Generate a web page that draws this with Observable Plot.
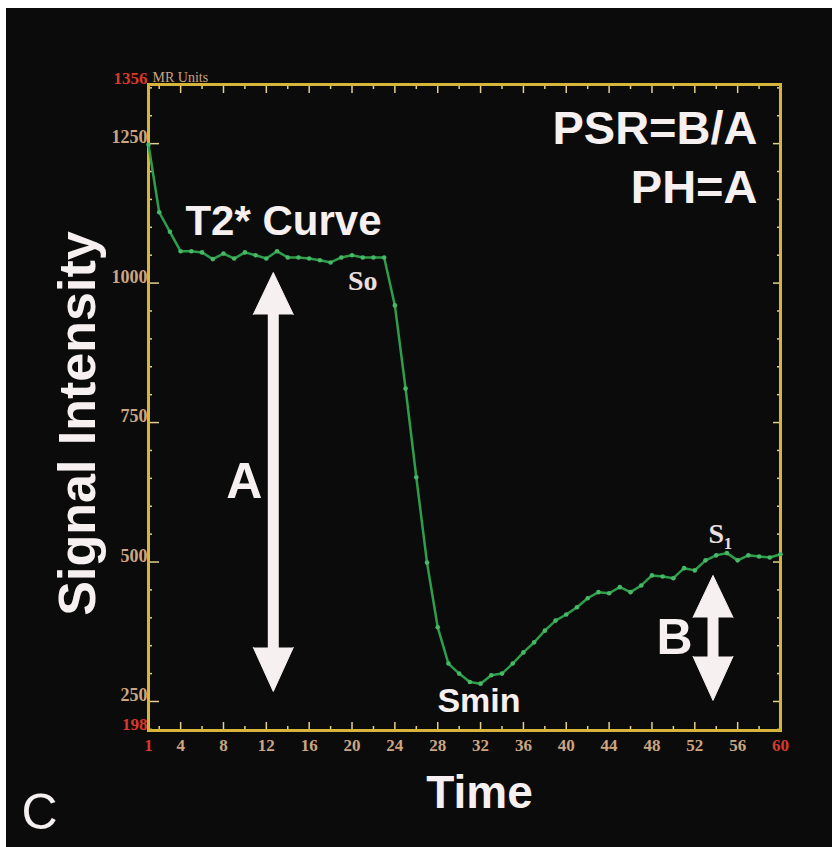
<!DOCTYPE html>
<html><head><meta charset="utf-8">
<script src="https://cdn.jsdelivr.net/npm/d3@7"></script>
<script src="https://cdn.jsdelivr.net/npm/@observablehq/plot@0.6"></script>
<style>
html,body{margin:0;padding:0;background:#ffffff;}
#chart{position:absolute;left:6px;top:8px;width:826px;height:839px;background:#0b0b0b;}
#chart svg{display:block;}
</style></head><body><div id="chart"></div>
<script>
// Time points (frames)
const time = [1,2,3,4,5,6,7,8,9,10,11,12,13,14,15,16,17,18,19,20,
  21,22,23,24,25,26,27,28,29,30,31,32,33,34,35,36,37,38,39,40,
  41,42,43,44,45,46,47,48,49,50,51,52,53,54,55,56,57,58,59,60];
// Signal intensity (MR units) read from the T2* curve
const signal = [1248,1127,1092,1057,1057,1055,1043,1053,1044,1055,
  1050,1044,1057,1046,1046,1044,1041,1037,1046,1050,
  1046,1046,1046,960,811,652,499,383,318,300,
  285,282,297,300,318,338,356,377,395,406,
  419,435,446,444,455,446,458,476,474,471,
  489,485,503,512,516,503,512,510,508,514];

// Axis ticks
const xLabelTicks = [4,8,12,16,20,24,28,32,36,40,44,48,52,56];
const xEndTicks = [1,60];
const xMinorTicks = [2,6,10,14,18,22,26,30,34,38,42,46,50,54,58];
const yLabelTicks = [250,500,750,1000,1250];
const yEndTicks = [198,1356];
const yMinorTicks = [200,300,350,400,450,550,600,650,700,800,850,900,950,1050,1100,1150,1200,1300,1350];
const unitsLabel = ["MR Units"];

// Annotations (in data units: time, signal)
const formulaLabels = [
  {label: "PSR=B/A", t: 57.85, v: 1277},
  {label: "PH=A", t: 57.85, v: 1170}
];
const curveLabel = [{label: "T2* Curve", t: 13.6, v: 1110}];
const letterLabels = [
  {label: "A", t: 9.95, v: 643},
  {label: "B", t: 50.1, v: 363}
];
const pointLabels = [
  {label: "So", t: 21.0, v: 1003},
  {label: "S\u2081", t: 54.4, v: 551}
];
const sminLabel = [{label: "Smin", t: 31.85, v: 250}];
const arrows = [
  {name: "A", t: 12.65, top: 1019, bottom: 268},
  {name: "B", t: 53.7, top: 476, bottom: 252}
];

const data = time.map((t, i) => ({t, v: signal[i]}));

const tan = "#cba681", red = "#d9392b", tickColor = "#e2cf8e", frameColor = "#d7b53b";
const green = "#2f9e4c", dotGreen = "#47b966", white = "#f6f0f0";
const serif = "'Liberation Serif', 'DejaVu Serif', serif";
const sans = "'Liberation Sans', Arial, sans-serif";
const blank = () => "";
const plain = d => String(d);

const chart = Plot.plot({
  width: 826, height: 839,
  marginLeft: 142, marginRight: 52, marginTop: 76, marginBottom: 117,
  style: {background: "#0b0b0b", color: tan, fontFamily: serif, overflow: "visible"},
  x: {domain: [1, 60], label: null},
  y: {domain: [198, 1356], label: null},
  marks: [
    // inner ticks
    Plot.axisX(xMinorTicks, {anchor: "bottom", tickSize: -4, stroke: tickColor, strokeWidth: 1.5, tickFormat: blank, label: null}),
    Plot.axisX(xLabelTicks, {anchor: "bottom", tickSize: -8, stroke: tickColor, strokeWidth: 1.5, tickFormat: blank, label: null}),
    Plot.axisX(xMinorTicks, {anchor: "top", tickSize: -4, stroke: tickColor, strokeWidth: 1.5, tickFormat: blank, label: null}),
    Plot.axisX(xLabelTicks, {anchor: "top", tickSize: -8, stroke: tickColor, strokeWidth: 1.5, tickFormat: blank, label: null}),
    Plot.axisY(yMinorTicks, {anchor: "left", tickSize: -4, stroke: tickColor, strokeWidth: 1.5, tickFormat: blank, label: null}),
    Plot.axisY(yLabelTicks, {anchor: "left", tickSize: -11, stroke: tickColor, strokeWidth: 1.5, tickFormat: blank, label: null}),
    Plot.axisY(yMinorTicks, {anchor: "right", tickSize: -4, stroke: tickColor, strokeWidth: 1.5, tickFormat: blank, label: null}),
    Plot.axisY(yLabelTicks, {anchor: "right", tickSize: -8, stroke: tickColor, strokeWidth: 1.5, tickFormat: blank, label: null}),
    // tick labels
    Plot.axisX(xLabelTicks, {anchor: "bottom", tickSize: 0, tickPadding: 8, tickFormat: plain, fill: tan, fontSize: 17, fontWeight: "bold", fontFamily: serif, label: null}),
    Plot.axisX(xEndTicks, {anchor: "bottom", tickSize: 0, tickPadding: 8, tickFormat: plain, fill: red, fontSize: 17, fontWeight: "bold", fontFamily: serif, label: null}),
    Plot.axisY(yLabelTicks, {anchor: "left", tickSize: 0, tickPadding: 1, dy: -6, tickFormat: plain, fill: tan, fontSize: 18, fontWeight: "bold", fontFamily: serif, label: null}),
    Plot.axisY(yEndTicks, {anchor: "left", tickSize: 0, tickPadding: 1, dy: -6, tickFormat: plain, fill: red, fontSize: 17, fontWeight: "bold", fontFamily: serif, label: null}),
    Plot.text(unitsLabel, {frameAnchor: "top-left", text: d => d, textAnchor: "start", lineAnchor: "middle", dx: 4, dy: -7, fill: tan, fontSize: 14, fontFamily: serif}),
    // frame
    Plot.frame({stroke: frameColor, strokeWidth: 3}),
    // curve
    Plot.line(data, {x: "t", y: "v", stroke: green, strokeWidth: 2.5}),
    Plot.dot(data, {x: "t", y: "v", r: 2.3, fill: dotGreen}),
    // arrows
    Plot.ruleX(arrows, {x: "t", y1: "top", y2: "bottom", stroke: white, strokeWidth: 11, insetTop: 20, insetBottom: 20}),
    Plot.vector(arrows, {x: "t", y: "top", rotate: 0, length: 42, r: 20, shape: "spike", anchor: "end", fill: white, stroke: white, strokeWidth: 1}),
    Plot.vector(arrows, {x: "t", y: "bottom", rotate: 180, length: 44, r: 20, shape: "spike", anchor: "end", fill: white, stroke: white, strokeWidth: 1}),
    // annotations
    Plot.text(formulaLabels, {x: "t", y: "v", text: "label", textAnchor: "end", fill: white, fontSize: 47, fontWeight: "bold", fontFamily: sans}),
    Plot.text(curveLabel, {x: "t", y: "v", text: "label", fill: white, fontSize: 42, fontWeight: "bold", fontFamily: sans}),
    Plot.text(letterLabels, {x: "t", y: "v", text: "label", fill: white, fontSize: 50, fontWeight: "bold", fontFamily: sans}),
    Plot.text(pointLabels, {x: "t", y: "v", text: "label", fill: "#eadede", fontSize: 28, fontWeight: "bold", fontFamily: serif}),
    Plot.text(sminLabel, {x: "t", y: "v", text: "label", fill: white, fontSize: 34, fontWeight: "bold", fontFamily: sans}),
    // axis titles and panel letter
    Plot.text(["Signal Intensity"], {frameAnchor: "left", text: d => d, textAnchor: "middle", lineAnchor: "middle", rotate: -90, dx: -70, dy: 16, fill: white, fontSize: 52, fontWeight: "bold", fontFamily: sans}),
    Plot.text(["Time"], {frameAnchor: "bottom", text: d => d, textAnchor: "middle", lineAnchor: "middle", dx: 15, dy: 63, fill: white, fontSize: 46, fontWeight: "bold", fontFamily: sans}),
    Plot.text(["C"], {frameAnchor: "bottom-left", text: d => d, textAnchor: "middle", lineAnchor: "middle", dx: -109, dy: 82, fill: white, fontSize: 50, fontFamily: sans})
  ]
});
document.getElementById("chart").appendChild(chart);
</script></body></html>
